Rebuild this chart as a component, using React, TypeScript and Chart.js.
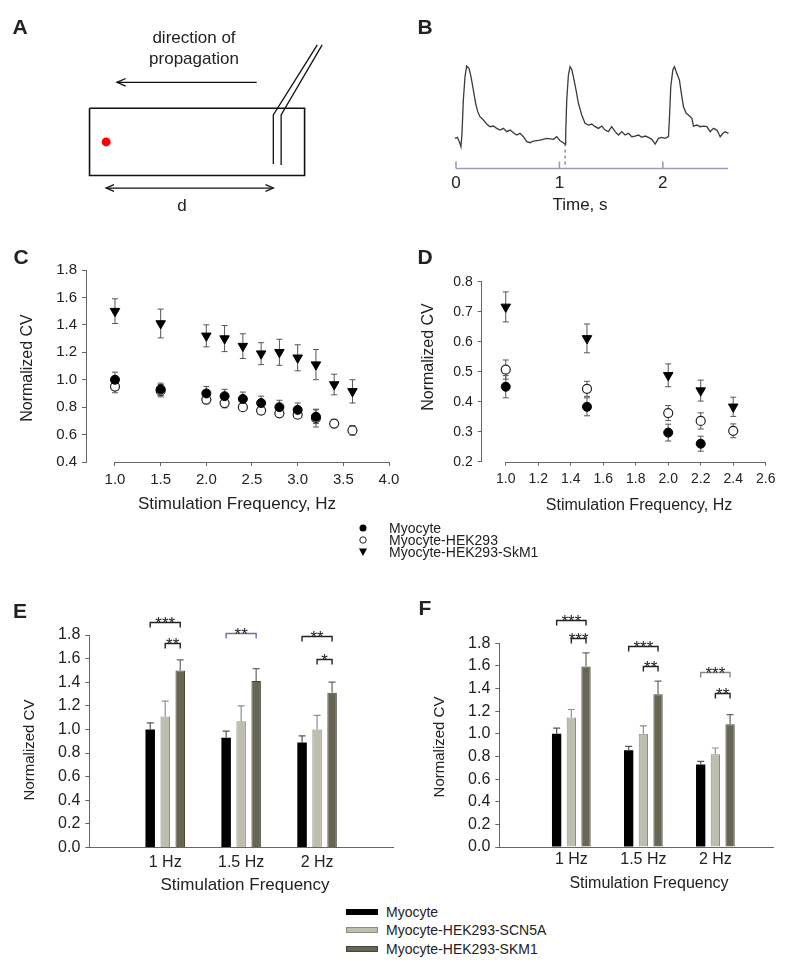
import React, { useEffect, useRef } from 'react';
import { Chart, registerables } from 'chart.js';
Chart.register(...registerables);

const FONT = '"Liberation Sans", Arial, Helvetica, sans-serif';
const AXIS = '#666666';
const TXT = '#222222';

// ---------------- Panel A (schematic, in schematic units) ----------------
const chamberOutline = [[87, 108], [307, 108], [307, 178], [87, 178], [87, 108]];
const pipetteWallInner = [[275, 166], [275, 115], [320, 42]];
const pipetteWallOuter = [[283, 167], [283, 115], [325, 42]];
const propagationShaft = [[258, 81], [115, 81]];
const propagationHead = [[124, 77], [115, 81], [124, 85]];
const distanceShaft = [[104, 191], [275, 191]];
const distanceHeadLeft = [[112, 187.5], [104, 191], [112, 194.5]];
const distanceHeadRight = [[267, 187.5], [275, 191], [267, 194.5]];
const recordingSite = [[104, 143]];

// ---------------- Panel B (optical trace) ----------------
const traceTime = [-0.010, 0.013, 0.032, 0.048, 0.058, 0.071, 0.087, 0.103, 0.126, 0.145, 0.168, 0.190, 0.210, 0.232, 0.265, 0.297, 0.329, 0.361, 0.394, 0.426, 0.458, 0.490, 0.523, 0.555, 0.587, 0.619, 0.652, 0.684, 0.716, 0.748, 0.813, 0.877, 0.942, 0.974, 1.006, 1.039, 1.055, 1.061, 1.071, 1.087, 1.103, 1.119, 1.135, 1.161, 1.184, 1.216, 1.248, 1.281, 1.313, 1.345, 1.377, 1.410, 1.442, 1.474, 1.506, 1.539, 1.571, 1.603, 1.635, 1.668, 1.700, 1.732, 1.765, 1.797, 1.829, 1.861, 1.894, 1.926, 1.958, 1.990, 2.023, 2.055, 2.065, 2.077, 2.097, 2.113, 2.135, 2.161, 2.184, 2.200, 2.226, 2.248, 2.281, 2.297, 2.329, 2.361, 2.394, 2.426, 2.458, 2.490, 2.523, 2.555, 2.581, 2.603, 2.635];
const traceSignal = [0.104, 0.117, 0.063, 0.000, 0.167, 0.583, 0.875, 1.008, 0.979, 0.875, 0.708, 0.542, 0.438, 0.375, 0.333, 0.283, 0.250, 0.258, 0.229, 0.208, 0.229, 0.188, 0.208, 0.175, 0.146, 0.167, 0.125, 0.063, 0.050, 0.071, 0.083, 0.104, 0.092, 0.125, 0.075, 0.050, 0.033, 0.167, 0.583, 0.896, 1.000, 0.967, 0.875, 0.708, 0.542, 0.396, 0.292, 0.271, 0.283, 0.250, 0.229, 0.258, 0.208, 0.188, 0.250, 0.188, 0.146, 0.188, 0.146, 0.167, 0.125, 0.133, 0.146, 0.117, 0.133, 0.117, 0.092, 0.033, 0.104, 0.117, 0.104, 0.125, 0.375, 0.750, 0.958, 1.000, 0.917, 0.833, 0.625, 0.500, 0.417, 0.396, 0.354, 0.258, 0.271, 0.250, 0.258, 0.250, 0.188, 0.229, 0.208, 0.125, 0.167, 0.188, 0.167];
const stimulusTime = 1.055;
const stimulusTop = 0.04;
const timeTicks = [0, 1, 2];
const timeAxisEnd = 2.63;

// ---------------- Panel C ----------------
const freqC = [1.0, 1.5, 2.0, 2.2, 2.4, 2.6, 2.8, 3.0, 3.2, 3.4, 3.6];
const cMyocyte = [1.00, 0.93, 0.90, 0.88, 0.86, 0.83, 0.80, 0.78, 0.73, null, null];
const cMyocyteErr = [0.055, 0.045, 0.05, 0.05, 0.05, 0.05, 0.05, 0.05, 0.05, null, null];
const cHek = [0.95, 0.92, 0.855, 0.83, 0.80, 0.775, 0.755, 0.745, 0.72, 0.68, 0.63];
const cHekErr = [0.045, 0.045, 0.03, 0.035, 0.025, 0.02, 0.02, 0.025, 0.065, 0.03, 0.035];
const cSkm = [1.50, 1.41, 1.32, 1.30, 1.245, 1.19, 1.20, 1.16, 1.11, 0.965, 0.915];
const cSkmErr = [0.09, 0.105, 0.08, 0.095, 0.09, 0.08, 0.095, 0.095, 0.11, 0.075, 0.085];
const cXTicks = [1.0, 1.5, 2.0, 2.5, 3.0, 3.5, 4.0];

// ---------------- Panel D ----------------
const freqD = [1.0, 1.5, 2.0, 2.2, 2.4];
const dMyocyte = [0.45, 0.383, 0.297, 0.26, null];
const dMyocyteErr = [0.037, 0.03, 0.028, 0.025, null];
const dHek = [0.507, 0.443, 0.362, 0.336, 0.303];
const dHekErr = [0.032, 0.025, 0.025, 0.027, 0.023];
const dSkm = [0.716, 0.611, 0.488, 0.437, 0.383];
const dSkmErr = [0.05, 0.048, 0.038, 0.035, 0.032];
const dXTicks = [1.0, 1.2, 1.4, 1.6, 1.8, 2.0, 2.2, 2.4, 2.6];

// ---------------- Panels E / F ----------------
const barCategories = ['1 Hz', '1.5 Hz', '2 Hz'];
const eMyocyte = [1.00, 0.93, 0.89];
const eMyocyteErr = [0.055, 0.055, 0.055];
const eScn5a = [1.11, 1.07, 1.00];
const eScn5aErr = [0.13, 0.13, 0.12];
const eSkm1 = [1.50, 1.41, 1.31];
const eSkm1Err = [0.09, 0.105, 0.09];
const eBrackets = [
  { group: 0, from: 0, to: 2, level: 1.91, label: '***', color: '#222' },
  { group: 0, from: 1, to: 2, level: 1.73, label: '**', color: '#222' },
  { group: 1, from: 0, to: 2, level: 1.82, label: '**', color: '#6a72a8' },
  { group: 2, from: 0, to: 2, level: 1.79, label: '**', color: '#222' },
  { group: 2, from: 1, to: 2, level: 1.60, label: '*', color: '#222' },
];
const fMyocyte = [1.00, 0.855, 0.73];
const fMyocyteErr = [0.05, 0.035, 0.027];
const fScn5a = [1.145, 1.00, 0.82];
const fScn5aErr = [0.07, 0.07, 0.055];
const fSkm1 = [1.595, 1.35, 1.085];
const fSkm1Err = [0.12, 0.115, 0.085];
const fBrackets = [
  { group: 0, from: 0, to: 2, level: 2.01, label: '***', color: '#222' },
  { group: 0, from: 1, to: 2, level: 1.845, label: '***', color: '#222' },
  { group: 1, from: 0, to: 2, level: 1.78, label: '***', color: '#222' },
  { group: 1, from: 1, to: 2, level: 1.60, label: '**', color: '#222' },
  { group: 2, from: 0, to: 2, level: 1.55, label: '***', color: '#8a8a8a' },
  { group: 2, from: 1, to: 2, level: 1.365, label: '**', color: '#222' },
];

const seriesScatter = ['Myocyte', 'Myocyte-HEK293', 'Myocyte-HEK293-SkM1'];
const seriesBars = ['Myocyte', 'Myocyte-HEK293-SCN5A', 'Myocyte-HEK293-SKM1'];
const barFill = ['#000000', '#bdbeae', '#666653'];
const barEdge = ['#000000', '#8b8c80', '#45453a'];
const barErrColor = ['#555555', '#8a8fa0', '#666666'];

// ---------------- helpers ----------------
const fixWidth = (w: number) => (s: any) => { s.width = w; s.paddingTop = 0; s.paddingBottom = 0; };
const fixHeight = (h: number) => (s: any) => { s.height = h; s.paddingLeft = 0; s.paddingRight = 0; };
const setTicks = (vals: number[]) => (s: any) => { s.ticks = vals.map((v) => ({ value: v })); };

const scatterErrorPlugin = {
  id: 'scatterErr',
  beforeDatasetsDraw(chart: any) {
    const { ctx } = chart;
    const xs = chart.scales.x, ys = chart.scales.y;
    ctx.save();
    ctx.strokeStyle = '#555';
    ctx.lineWidth = 1;
    chart.data.datasets.forEach((ds: any) => {
      ds.data.forEach((p: any) => {
        if (p.e == null) return;
        const x = xs.getPixelForValue(p.x);
        const y1 = ys.getPixelForValue(p.y + p.e);
        const y2 = ys.getPixelForValue(p.y - p.e);
        ctx.beginPath();
        ctx.moveTo(x, y1); ctx.lineTo(x, y2);
        ctx.moveTo(x - 3, y1); ctx.lineTo(x + 3, y1);
        ctx.moveTo(x - 3, y2); ctx.lineTo(x + 3, y2);
        ctx.stroke();
      });
    });
    ctx.restore();
  },
};

const partialXAxis = (from: number, to: number) => ({
  id: 'partialXAxis',
  afterDraw(chart: any) {
    const { ctx } = chart;
    const xs = chart.scales.x;
    const y = Math.round(chart.chartArea.bottom) + 0.5;
    ctx.save();
    ctx.strokeStyle = AXIS;
    ctx.lineWidth = 1;
    ctx.beginPath();
    ctx.moveTo(xs.getPixelForValue(from), y);
    ctx.lineTo(xs.getPixelForValue(to), y);
    ctx.stroke();
    ctx.restore();
  },
});

const barErrorPlugin = {
  id: 'barErr',
  afterDatasetsDraw(chart: any) {
    const { ctx } = chart;
    const ys = chart.scales.y;
    ctx.save();
    ctx.lineWidth = 1.2;
    chart.data.datasets.forEach((ds: any, di: number) => {
      const meta = chart.getDatasetMeta(di);
      ctx.strokeStyle = ds.errColor;
      meta.data.forEach((bar: any, j: number) => {
        const v = ds.data[j].y;
        const e = ds.errors[j];
        const yTop = ys.getPixelForValue(v);
        const yE = ys.getPixelForValue(v + e);
        ctx.beginPath();
        ctx.moveTo(bar.x, yTop); ctx.lineTo(bar.x, yE);
        ctx.moveTo(bar.x - 3.5, yE); ctx.lineTo(bar.x + 3.5, yE);
        ctx.stroke();
      });
    });
    ctx.restore();
  },
};

const bracketPlugin = (brackets: any[]) => ({
  id: 'brackets',
  afterDraw(chart: any) {
    const { ctx } = chart;
    const ys = chart.scales.y;
    ctx.save();
    brackets.forEach((b) => {
      const x1 = chart.getDatasetMeta(b.from).data[b.group].x;
      const x2 = chart.getDatasetMeta(b.to).data[b.group].x;
      const y = Math.round(ys.getPixelForValue(b.level)) + 0.5;
      ctx.strokeStyle = b.color;
      ctx.lineWidth = 1.4;
      ctx.beginPath();
      ctx.moveTo(x1, y + 5); ctx.lineTo(x1, y); ctx.lineTo(x2, y); ctx.lineTo(x2, y + 5);
      ctx.stroke();
      ctx.font = `17px ${FONT}`;
      ctx.textAlign = 'center';
      ctx.textBaseline = 'alphabetic';
      ctx.fillStyle = '#222';
      ctx.fillText(b.label, (x1 + x2) / 2, y + 6);
    });
    ctx.restore();
  },
});

const timeAxisPlugin = {
  id: 'timeAxis',
  afterDraw(chart: any) {
    const { ctx } = chart;
    const xs = chart.scales.x;
    const y = Math.round(chart.chartArea.bottom) + 0.5;
    ctx.save();
    ctx.strokeStyle = '#9c9cb8';
    ctx.lineWidth = 1.6;
    ctx.beginPath();
    ctx.moveTo(xs.getPixelForValue(0), y);
    ctx.lineTo(xs.getPixelForValue(timeAxisEnd), y);
    timeTicks.forEach((t) => {
      const x = xs.getPixelForValue(t);
      ctx.moveTo(x, y); ctx.lineTo(x, y - 7);
    });
    ctx.stroke();
    ctx.restore();
  },
};

const pts = (arr: number[][]) => arr.map(([x, y]) => ({ x, y }));
const lineDs = (arr: number[][], color = '#111', width = 1.5) => ({
  data: pts(arr), showLine: true, borderColor: color, borderWidth: width, pointRadius: 0, fill: false, tension: 0,
});

function makeA(): any {
  return {
    type: 'scatter',
    data: {
      datasets: [
        lineDs(chamberOutline, '#111', 1.6),
        lineDs(pipetteWallInner, '#111', 1.3),
        lineDs(pipetteWallOuter, '#111', 1.3),
        lineDs(propagationShaft, '#111', 1.3),
        lineDs(propagationHead, '#111', 1.3),
        lineDs(distanceShaft, '#111', 1.3),
        lineDs(distanceHeadLeft, '#111', 1.3),
        lineDs(distanceHeadRight, '#111', 1.3),
        { data: pts(recordingSite), pointRadius: 4.5, backgroundColor: '#ff0000', borderColor: '#ff0000', borderWidth: 0 },
      ],
    },
    options: {
      animation: false, responsive: false, devicePixelRatio: 1,
      layout: { padding: 0 },
      plugins: { legend: { display: false }, tooltip: { enabled: false } },
      scales: {
        x: { type: 'linear', display: false, min: 0, max: 400 },
        y: { type: 'linear', display: false, min: 0, max: 230, reverse: true },
      },
    },
  };
}

function makeB(): any {
  return {
    type: 'scatter',
    data: {
      datasets: [
        { data: traceTime.map((t, i) => ({ x: t, y: traceSignal[i] })), showLine: true, borderColor: '#3a3a3a', borderWidth: 1.3, pointRadius: 0, tension: 0 },
        { data: [{ x: stimulusTime, y: stimulusTop }, { x: stimulusTime, y: -0.2625 }], showLine: true, borderColor: '#555', borderWidth: 1, borderDash: [3, 3], pointRadius: 0 },
      ],
    },
    options: {
      animation: false, responsive: false, devicePixelRatio: 1,
      layout: { padding: { left: 53.93, right: 71.02, top: 10.7, bottom: 0 } },
      plugins: { legend: { display: false }, tooltip: { enabled: false } },
      scales: {
        x: {
          type: 'linear', min: -0.02, max: 2.64,
          afterBuildTicks: setTicks(timeTicks),
          afterFit: fixHeight(42.3),
          grid: { display: false }, border: { display: false },
          ticks: { font: { family: FONT, size: 17 }, color: TXT, padding: -3, maxRotation: 0, autoSkip: false, callback: (v: any) => String(v) },
        },
        y: { type: 'linear', display: false, min: -0.2625, max: 1.2 },
      },
    },
    plugins: [timeAxisPlugin],
  };
}

function scatterDatasets(xs: number[], a: any[], ae: any[], b: any[], be: any[], c: any[], ce: any[]) {
  const mk = (v: any[], e: any[]) => xs.map((x, i) => ({ x, y: v[i], e: e[i] })).filter((p) => p.y != null);
  return [
    { label: seriesScatter[0], data: mk(a, ae), pointStyle: 'circle', pointRadius: 4.5, backgroundColor: '#000', borderColor: '#000', borderWidth: 1 },
    { label: seriesScatter[1], data: mk(b, be), pointStyle: 'circle', pointRadius: 4.5, backgroundColor: '#fff', borderColor: '#222', borderWidth: 1.2 },
    { label: seriesScatter[2], data: mk(c, ce), pointStyle: 'triangle', rotation: 180, pointRadius: 5.5, backgroundColor: '#000', borderColor: '#000', borderWidth: 1 },
  ];
}

function scatterOptions(o: any): any {
  return {
    animation: false, responsive: false, devicePixelRatio: 1,
    layout: { padding: { left: 0, right: o.padRight, top: o.padTop, bottom: 0 } },
    plugins: { legend: { display: false }, tooltip: { enabled: false } },
    scales: {
      x: {
        type: 'linear', min: o.xMin, max: o.xMax,
        afterBuildTicks: setTicks(o.xTicks),
        afterFit: fixHeight(o.xAxisH),
        grid: { display: true, drawOnChartArea: false, drawTicks: true, tickLength: 4, color: AXIS },
        border: { display: false },
        ticks: { font: { family: FONT, size: o.tickSize }, color: TXT, padding: 5, maxRotation: 0, autoSkip: false, callback: (v: any) => Number(v).toFixed(1) },
      },
      y: {
        type: 'linear', min: o.yMin, max: o.yMax,
        afterFit: fixWidth(o.yAxisW),
        grid: { display: true, drawOnChartArea: false, drawTicks: true, tickLength: 4, color: AXIS },
        border: { display: true, color: AXIS, width: 1 },
        ticks: { stepSize: o.yStep, font: { family: FONT, size: o.tickSize }, color: TXT, padding: 5, callback: (v: any) => Number(v).toFixed(1) },
      },
    },
  };
}

function makeC(): any {
  return {
    type: 'scatter',
    data: { datasets: scatterDatasets(freqC, cMyocyte, cMyocyteErr, cHek, cHekErr, cSkm, cSkmErr) },
    options: scatterOptions({ xMin: 0.6825, xMax: 4.0, xTicks: cXTicks, yMin: 0.4, yMax: 1.8, yStep: 0.2, padRight: 11, padTop: 30, xAxisH: 58, yAxisW: 86, tickSize: 15 }),
    plugins: [scatterErrorPlugin, partialXAxis(1.0, 4.0)],
  };
}

function makeD(): any {
  return {
    type: 'scatter',
    data: { datasets: scatterDatasets(freqD, dMyocyte, dMyocyteErr, dHek, dHekErr, dSkm, dSkmErr) },
    options: scatterOptions({ xMin: 0.852, xMax: 2.6, xTicks: dXTicks, yMin: 0.2, yMax: 0.8, yStep: 0.1, padRight: 34.3, padTop: 41.7, xAxisH: 58.3, yAxisW: 81.7, tickSize: 14 }),
    plugins: [scatterErrorPlugin, partialXAxis(1.0, 2.6)],
  };
}

function makeBars(vals: number[][], errs: number[][], brackets: any[], o: any): any {
  return {
    type: 'bar',
    data: {
      datasets: vals.map((v, k) => ({
        label: seriesBars[k],
        data: v.map((y, i) => ({ x: i + 1, y })),
        errors: errs[k],
        errColor: barErrColor[k],
        backgroundColor: barFill[k],
        borderColor: barEdge[k],
        borderWidth: k === 0 ? 0 : 1,
        categoryPercentage: o.cp,
        barPercentage: 0.633,
      })),
    },
    options: {
      animation: false, responsive: false, devicePixelRatio: 1,
      layout: { padding: { left: 0, right: o.padRight, top: o.padTop, bottom: 0 } },
      plugins: { legend: { display: false }, tooltip: { enabled: false } },
      scales: {
        x: {
          type: 'linear', min: 0, max: o.xMax, offset: false,
          afterBuildTicks: setTicks([1, 2, 3]),
          afterFit: fixHeight(o.xAxisH),
          grid: { display: false, offset: false },
          border: { display: true, color: AXIS, width: 1 },
          ticks: { font: { family: FONT, size: 16 }, color: TXT, padding: o.xPad, maxRotation: 0, autoSkip: false, callback: (v: any) => barCategories[Number(v) - 1] ?? '' },
        },
        y: {
          type: 'linear', min: 0, max: 1.8,
          afterFit: fixWidth(o.yAxisW),
          grid: { display: true, drawOnChartArea: false, drawTicks: true, tickLength: 4, color: AXIS },
          border: { display: true, color: AXIS, width: 1 },
          ticks: { stepSize: 0.2, font: { family: FONT, size: 16 }, color: TXT, padding: 5, callback: (v: any) => Number(v).toFixed(1) },
        },
      },
    },
    plugins: [barErrorPlugin, bracketPlugin(brackets)],
  };
}

function makeE(): any {
  return makeBars([eMyocyte, eScn5a, eSkm1], [eMyocyteErr, eScn5aErr, eSkm1Err], eBrackets,
    { xMax: 4, cp: 0.593, padRight: 7, padTop: 45, xAxisH: 42.5, yAxisW: 89.3, xPad: -3 });
}
function makeF(): any {
  return makeBars([fMyocyte, fScn5a, fSkm1], [fMyocyteErr, fScn5aErr, fSkm1Err], fBrackets,
    { xMax: 3.8, cp: 0.612, padRight: 27, padTop: 53.3, xAxisH: 43, yAxisW: 99.3, xPad: -5 });
}

function ChartCanvas({ left, top, width, height, make }: any) {
  const ref = useRef<HTMLCanvasElement>(null);
  useEffect(() => {
    const chart = new Chart(ref.current as HTMLCanvasElement, make());
    return () => chart.destroy();
  }, []);
  return <canvas ref={ref} width={width} height={height} style={{ position: 'absolute', left, top, width, height }} />;
}

function Txt({ x, y, size, children, bold, rotate, sx = 1, color = TXT }: any) {
  return (
    <div style={{
      position: 'absolute', left: x, top: y, whiteSpace: 'nowrap', fontFamily: FONT, fontSize: size,
      lineHeight: 1, fontWeight: bold ? 'bold' : 'normal', color,
      transform: `translate(-50%,-50%)${rotate ? ' rotate(-90deg)' : ''} scaleX(${sx})`,
    }}>{children}</div>
  );
}

function LegendText({ x, y, children }: any) {
  return (
    <div style={{ position: 'absolute', left: x, top: y - 7, fontFamily: FONT, fontSize: 14, lineHeight: '14px', color: TXT, whiteSpace: 'nowrap' }}>{children}</div>
  );
}

export default function App() {
  const markerRows = [528, 540, 552];
  const swatchRows = [911.7, 930, 949];
  return (
    <div style={{ position: 'absolute', left: 0, top: 0, width: 800, height: 966, background: '#fff', overflow: 'hidden' }}>
      <ChartCanvas left={0} top={0} width={400} height={230} make={makeA} />
      <ChartCanvas left={400} top={40} width={400} height={170} make={makeB} />
      <ChartCanvas left={0} top={240} width={400} height={280} make={makeC} />
      <ChartCanvas left={400} top={240} width={400} height={280} make={makeD} />
      <ChartCanvas left={0} top={590} width={400} height={300} make={makeE} />
      <ChartCanvas left={400} top={590} width={400} height={300} make={makeF} />

      {/* panel letters */}
      <Txt x={20} y={25.5} size={21} bold>A</Txt>
      <Txt x={425} y={25.5} size={21} bold>B</Txt>
      <Txt x={21} y={256} size={21} bold>C</Txt>
      <Txt x={425} y={256} size={21} bold>D</Txt>
      <Txt x={20} y={609.5} size={21} bold>E</Txt>
      <Txt x={425} y={606.5} size={21} bold>F</Txt>

      {/* panel A texts */}
      <Txt x={194} y={37} size={17}>direction of</Txt>
      <Txt x={194} y={58} size={17}>propagation</Txt>
      <Txt x={182} y={205} size={17}>d</Txt>

      {/* panel B */}
      <Txt x={580} y={204} size={17}>Time, s</Txt>

      {/* panel C / D titles */}
      <Txt x={27} y={368} size={16} rotate>Normalized CV</Txt>
      <Txt x={237} y={503} size={17}>Stimulation Frequency, Hz</Txt>
      <Txt x={428} y={357} size={16} rotate>Normalized CV</Txt>
      <Txt x={639} y={505} size={16}>Stimulation Frequency, Hz</Txt>

      {/* legend for C/D */}
      <svg style={{ position: 'absolute', left: 355, top: 520, width: 20, height: 40 }} width={20} height={40}>
        <circle cx={8} cy={markerRows[0] - 520} r={3.5} fill="#000" />
        <circle cx={8} cy={markerRows[1] - 520} r={3.2} fill="#fff" stroke="#222" strokeWidth={1} />
        <polygon points={`${4},${markerRows[2] - 520 - 3.5} ${12},${markerRows[2] - 520 - 3.5} ${8},${markerRows[2] - 520 + 4}`} fill="#000" />
      </svg>
      {seriesScatter.map((s, i) => <LegendText key={s} x={389} y={markerRows[i]}>{s}</LegendText>)}

      {/* panel E / F titles */}
      <Txt x={28} y={750} size={15} rotate>Normalized CV</Txt>
      <Txt x={245} y={884} size={17}>Stimulation Frequency</Txt>
      <Txt x={438} y={747} size={15} rotate>Normalized CV</Txt>
      <Txt x={649} y={883} size={16}>Stimulation Frequency</Txt>

      {/* legend for E/F */}
      {seriesBars.map((s, i) => (
        <React.Fragment key={s}>
          <div style={{ position: 'absolute', left: 346, top: swatchRows[i] - 3, width: 32, height: 6, background: barFill[i], boxSizing: 'border-box', border: i === 0 ? 'none' : `1px solid ${barEdge[i]}` }} />
          <LegendText x={386} y={swatchRows[i]}>{s}</LegendText>
        </React.Fragment>
      ))}
    </div>
  );
}
